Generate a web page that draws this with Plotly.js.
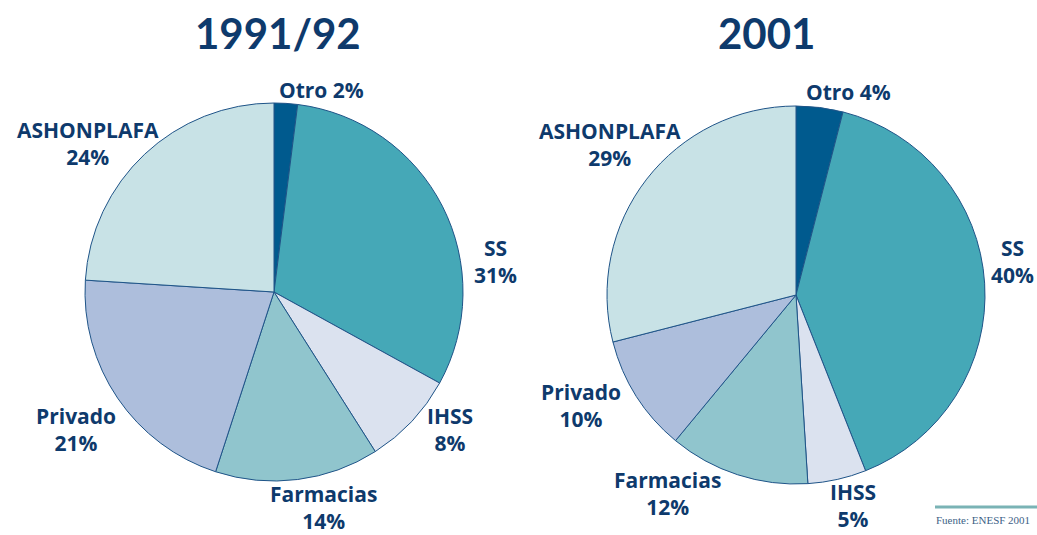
<!DOCTYPE html>
<html>
<head>
<meta charset="utf-8">
<script src="https://cdn.plot.ly/plotly-3.0.1.min.js"></script>
<style>html,body{margin:0;padding:0;background:#fff;}#chart{width:1037px;height:535px;}</style>
</head>
<body>
<div id="chart"></div>
<script>
// ---- data ----
const categories = ["Otro", "SS", "IHSS", "Farmacias", "Privado", "ASHONPLAFA"];
const values1991 = [2, 31, 8, 14, 21, 24];
const values2001 = [4, 40, 5, 12, 10, 29];
const titles = ["1991/92", "2001"];
const sourceText = "Fuente: ENESF 2001";

// ---- styling ----
const colors = ["#005a8e", "#45a8b7", "#dbe2ef", "#90c5cd", "#adbedc", "#c8e2e6"];
const navy = "#0e3a6c";
const W = 1037, H = 535;
const px = x => x / W;
const py = y => (H - y) / H;

// label anchor positions (pixel centres) for each category, per chart
const labelPos1991 = [[322, 90, true], [495, 261], [450, 429], [323, 507], [76, 429], [88, 143]];
const labelPos2001 = [[848, 92, true], [1012, 261], [853, 505], [667, 493], [581, 405], [610, 144]];

function pieTrace(vals, dom) {
  return {
    type: "pie", labels: categories, values: vals, sort: false,
    direction: "clockwise", rotation: 0, textinfo: "none", hoverinfo: "label+percent",
    marker: { colors: colors, line: { color: "#1f5488", width: 1 } },
    domain: dom, showlegend: false
  };
}

const data = [
  pieTrace(values1991, { x: [px(85), px(463)], y: [py(481), py(103)] }),
  pieTrace(values2001, { x: [px(607), px(985)], y: [py(484), py(106)] })
];

const annotations = [];
function addLabels(vals, pos) {
  categories.forEach((c, i) => {
    const p = pos[i];
    const txt = p[2] ? c + " " + vals[i] + "%" : c + "<br>" + vals[i] + "%";
    annotations.push({
      x: px(p[0]), y: py(p[1]), xref: "paper", yref: "paper",
      text: "<b>" + txt + "</b>", showarrow: false, xanchor: "center", yanchor: "middle",
      font: { family: "'Open Sans', Lato, sans-serif", size: 21, color: navy },
      align: "center", borderpad: 0
    });
  });
}
addLabels(values1991, labelPos1991);
addLabels(values2001, labelPos2001);

annotations.push({
  x: px(278), y: py(33), xref: "paper", yref: "paper", text: "<b>" + titles[0] + "</b>",
  showarrow: false, xanchor: "center", yanchor: "middle",
  font: { family: "Lato, sans-serif", size: 42, color: navy }
});
annotations.push({
  x: px(766), y: py(33), xref: "paper", yref: "paper", text: "<b>" + titles[1] + "</b>",
  showarrow: false, xanchor: "center", yanchor: "middle",
  font: { family: "Lato, sans-serif", size: 42, color: navy }
});
annotations.push({
  x: px(935), y: py(513), xref: "paper", yref: "paper", text: sourceText,
  showarrow: false, xanchor: "left", yanchor: "top", borderpad: 0,
  font: { family: "'Liberation Serif', serif", size: 11, color: "#3d5f86" }
});

const layout = {
  width: W, height: H,
  margin: { l: 0, r: 0, t: 0, b: 0 },
  paper_bgcolor: "#ffffff",
  annotations: annotations,
  shapes: [{
    type: "line", xref: "paper", yref: "paper",
    x0: px(935), x1: px(1037), y0: py(507), y1: py(507),
    line: { color: "#7ab3b5", width: 3 }
  }]
};

Plotly.newPlot("chart", data, layout, { displayModeBar: false, staticPlot: true });
</script>
</body>
</html>
